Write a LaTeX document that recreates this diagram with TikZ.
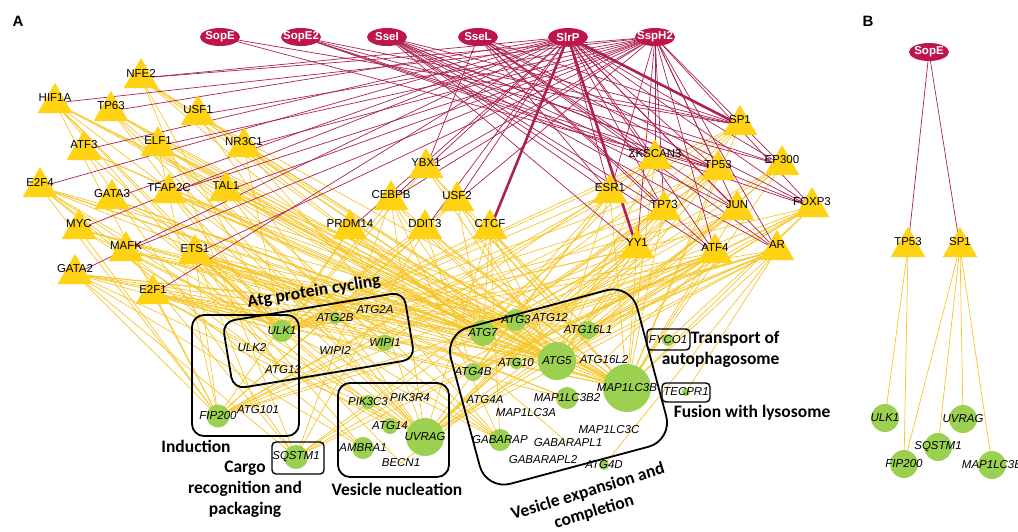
\documentclass[tikz,border=0pt]{standalone}
\usepackage{fontspec}
\setmainfont{Liberation Sans}
\newfontfamily\calibri{Carlito}
\usetikzlibrary{shapes.geometric}

\definecolor{hostred}{RGB}{172,32,82}
\definecolor{effred}{RGB}{190,22,74}
\definecolor{tfgold}{RGB}{255,210,20}
\definecolor{tgline}{RGB}{246,198,40}
\definecolor{genegreen}{RGB}{155,208,80}

\pgfdeclarelayer{edges}
\pgfsetlayers{edges,main}

\begin{document}
\begin{tikzpicture}
   [x=1pt, y=-1pt,
    eff/.style={ellipse, fill=effred, minimum width=40pt, minimum height=18pt, inner sep=0pt},
    efflab/.style={text=white, font=\fontsize{11.5}{12}\selectfont\bfseries},
    tf/.style={regular polygon, regular polygon sides=3, minimum size=40pt, inner sep=0pt, fill=tfgold},
    tflab/.style={font=\fontsize{11.5}{12}\selectfont, yshift=5pt},
    gene/.style={circle, fill=genegreen, inner sep=0pt, minimum size=#1},
    genelab/.style={font=\fontsize{11.5}{12}\selectfont\itshape},
    grpbox/.style={draw, line width=1.8pt, rounded corners=12pt},
    tinybox/.style={draw, line width=1.4pt, rounded corners=4pt},
    grplab/.style={font=\calibri\fontsize{17.5}{21}\selectfont\bfseries, align=center},
    hostedge/.style={hostred, line width=0.7pt},
    tgedge/.style={tgline, line width=0.7pt}]
    \useasboundingbox (0,0) rectangle (1018,531);

    \node[font=\fontsize{15}{16}\selectfont\bfseries] (panelA) at (18,21) {A};
    \node[font=\fontsize{15}{16}\selectfont\bfseries] (panelB) at (868,21) {B};

    % effectors
    \node[eff, label={[efflab]center:SopE}] (SopE) at (220,37) {};
    \node[eff, label={[efflab]center:SopE2}] (SopE2) at (301,37) {};
    \node[eff, label={[efflab]center:SseI}] (SseI) at (387,37) {};
    \node[eff, label={[efflab]center:SseL}] (SseL) at (478,37) {};
    \node[eff, label={[efflab]center:SlrP}] (SlrP) at (568,37) {};
    \node[eff, label={[efflab]center:SspH2}] (SspH2) at (655,37) {};

    % transcription factors
    \node[tf, label={[tflab]center:NFE2}] (NFE2) at (141,78) {};
    \node[tf, label={[tflab]center:HIF1A}] (HIF1A) at (55,103) {};
    \node[tf, label={[tflab]center:TP63}] (TP63) at (111,111) {};
    \node[tf, label={[tflab]center:USF1}] (USF1) at (198,115) {};
    \node[tf, label={[tflab]center:ATF3}] (ATF3) at (84,150) {};
    \node[tf, label={[tflab]center:ELF1}] (ELF1) at (158,146) {};
    \node[tf, label={[tflab]center:NR3C1}] (NR3C1) at (244,147) {};
    \node[tf, label={[tflab]center:E2F4}] (E2F4) at (40,187) {};
    \node[tf, label={[tflab]center:GATA3}] (GATA3) at (112,199) {};
    \node[tf, label={[tflab]center:TFAP2C}] (TFAP2C) at (169,193) {};
    \node[tf, label={[tflab]center:TAL1}] (TAL1) at (226,191) {};
    \node[tf, label={[tflab]center:MYC}] (MYC) at (79,229) {};
    \node[tf, label={[tflab]center:MAFK}] (MAFK) at (126,251) {};
    \node[tf, label={[tflab]center:ETS1}] (ETS1) at (195,254) {};
    \node[tf, label={[tflab]center:GATA2}] (GATA2) at (75,274) {};
    \node[tf, label={[tflab]center:E2F1}] (E2F1) at (153,294) {};
    \node[tf, label={[tflab]center:YBX1}] (YBX1) at (426,168) {};
    \node[tf, label={[tflab]center:CEBPB}] (CEBPB) at (391,200) {};
    \node[tf, label={[tflab]center:USF2}] (USF2) at (457,201) {};
    \node[tf, label={[tflab]center:PRDM14}] (PRDM14) at (350,229) {};
    \node[tf, label={[tflab]center:DDIT3}] (DDIT3) at (425,229) {};
    \node[tf, label={[tflab]center:CTCF}] (CTCF) at (490,229) {};
    \node[tf, label={[tflab]center:ESR1}] (ESR1) at (610,193) {};
    \node[tf, label={[tflab]center:TP73}] (TP73) at (664,210) {};
    \node[tf, label={[tflab]center:JUN}] (JUN) at (737,210) {};
    \node[tf, label={[tflab]center:FOXP3}] (FOXP3) at (812,207) {};
    \node[tf, label={[tflab]center:YY1}] (YY1) at (637,248) {};
    \node[tf, label={[tflab]center:ATF4}] (ATF4) at (715,253) {};
    \node[tf, label={[tflab]center:AR}] (AR) at (777,250) {};
    \node[tf, label={[tflab]center:SP1}] (SP1) at (740,125) {};
    \node[tf, label={[tflab]center:ZKSCAN3}] (ZKSCAN3) at (655,159) {};
    \node[tf, label={[tflab]center:TP53}] (TP53) at (718,170) {};
    \node[tf, label={[tflab]center:EP300}] (EP300) at (782,165) {};

    % autophagy genes
    \node[gene=22pt, label={[genelab]center:ULK1}] (ULK1) at (282,331) {};
    \node[gene=0pt, label={[genelab]center:ULK2}] (ULK2) at (252,348) {};
    \node[gene=0pt, label={[genelab]center:ATG13}] (ATG13) at (283,370) {};
    \node[gene=23pt, label={[genelab]center:FIP200}] (FIP200) at (218,416) {};
    \node[gene=0pt, label={[genelab]center:ATG101}] (ATG101) at (258,410) {};
    \node[gene=12pt, label={[genelab]center:ATG2B}] (ATG2B) at (335,318) {};
    \node[gene=0pt, label={[genelab]center:ATG2A}] (ATG2A) at (375,310) {};
    \node[gene=0pt, label={[genelab]center:WIPI2}] (WIPI2) at (335,350) {};
    \node[gene=16pt, label={[genelab]center:WIPI1}] (WIPI1) at (385,343) {};
    \node[gene=14pt, label={[genelab]center:PIK3C3}] (PIK3C3) at (368,402) {};
    \node[gene=0pt, label={[genelab]center:PIK3R4}] (PIK3R4) at (410,398) {};
    \node[gene=16pt, label={[genelab]center:ATG14}] (ATG14) at (390,426) {};
    \node[gene=38pt, label={[genelab]center:UVRAG}] (UVRAG) at (425,437) {};
    \node[gene=22pt, label={[genelab]center:AMBRA1}] (AMBRA1) at (363,448) {};
    \node[gene=0pt, label={[genelab]center:BECN1}] (BECN1) at (401,463) {};
    \node[gene=24pt, label={[genelab]center:SQSTM1}] (SQSTM1) at (296,457) {};
    \node[gene=26pt, label={[genelab]center:ATG7}] (ATG7) at (483,333) {};
    \node[gene=22pt, label={[genelab]center:ATG3}] (ATG3) at (516,320) {};
    \node[gene=0pt, label={[genelab]center:ATG12}] (ATG12) at (550,318) {};
    \node[gene=18pt, label={[genelab]center:ATG16L1}] (ATG16L1) at (588,330) {};
    \node[gene=38pt, label={[genelab]center:ATG5}] (ATG5) at (557,361) {};
    \node[gene=0pt, label={[genelab]center:ATG16L2}] (ATG16L2) at (604,360) {};
    \node[gene=18pt, label={[genelab]center:ATG4B}] (ATG4B) at (473,372) {};
    \node[gene=12pt, label={[genelab]center:ATG10}] (ATG10) at (516,363) {};
    \node[gene=48pt, label={[genelab]center:MAP1LC3B}] (MAP1LC3B) at (627,388) {};
    \node[gene=22pt, label={[genelab]center:MAP1LC3B2}] (MAP1LC3B2) at (567,398) {};
    \node[gene=0pt, label={[genelab]center:ATG4A}] (ATG4A) at (485,400) {};
    \node[gene=0pt, label={[genelab]center:MAP1LC3A}] (MAP1LC3A) at (526,413) {};
    \node[gene=0pt, label={[genelab]center:MAP1LC3C}] (MAP1LC3C) at (609,430) {};
    \node[gene=22pt, label={[genelab]center:GABARAP}] (GABARAP) at (500,440) {};
    \node[gene=0pt, label={[genelab]center:GABARAPL1}] (GABARAPL1) at (568,443) {};
    \node[gene=0pt, label={[genelab]center:GABARAPL2}] (GABARAPL2) at (543,460) {};
    \node[gene=10pt, label={[genelab]center:ATG4D}] (ATG4D) at (604,465) {};
    \node[gene=12pt, label={[genelab]center:FYCO1}] (FYCO1) at (668,340) {};
    \node[gene=8pt, label={[genelab]center:TECPR1}] (TECPR1) at (686,392) {};

    % process boxes
    \node[grpbox, minimum width=107pt, minimum height=121pt] (indbox) at (245.5,375.5) {};
    \node[grpbox, minimum width=184pt, minimum height=68pt, rotate=9.4] (cycbox) at (318.5,340.5) {};
    \node[grpbox, minimum width=111pt, minimum height=94pt] (nucbox) at (393.5,430) {};
    \node[grpbox, rounded corners=25pt, minimum width=193pt, minimum height=162pt, rotate=15] (expbox) at (558.5,387) {};
    \node[tinybox, minimum width=52pt, minimum height=32pt] (cargobox) at (298,458) {};
    \node[tinybox, minimum width=43pt, minimum height=21pt] (trbox) at (668.5,339.5) {};
    \node[tinybox, minimum width=48pt, minimum height=19pt] (fusbox) at (686,392.5) {};

    \node[grplab, rotate=9.4] (cyclab) at (314,292) {Atg protein cycling};
    \node[grplab] (indlab) at (196,446) {Induction};
    \node[grplab] (cargolab) at (245,489) {Cargo\\recognition and\\packaging};
    \node[grplab] (nuclab) at (397,489) {Vesicle nucleation};
    \node[grplab, rotate=17] (explab) at (591,502) {Vesicle expansion and\\completion};
    \node[grplab, align=right, anchor=east] (trlab) at (783,349) {Transport of\\autophagosome};
    \node[grplab] (fuslab) at (752,413) {Fusion with lysosome};

    % panel B
    \node[eff, label={[efflab]center:SopE}] (bSopE) at (929,52) {};
    \node[tf, label={[tflab]center:TP53}] (bTP53) at (908,247) {};
    \node[tf, label={[tflab]center:SP1}] (bSP1) at (960,247) {};
    \node[gene=28pt, label={[genelab]center:ULK1}] (bULK1) at (885,418) {};
    \node[gene=28pt, label={[genelab]center:UVRAG}] (bUVRAG) at (963,419) {};
    \node[gene=28pt, label={[genelab]center:SQSTM1}] (bSQSTM1) at (938,447) {};
    \node[gene=28pt, label={[genelab]center:FIP200}] (bFIP200) at (904,464) {};
    \node[gene=28pt, label={[genelab]center:MAP1LC3B}] (bMAP1LC3B) at (992,465) {};

    \begin{pgfonlayer}{edges}
    % TF -> target genes
    \foreach \t/\gs in {NFE2/{SQSTM1,ULK1,ATG7,MAP1LC3B,GABARAPL1,ATG5},
        HIF1A/{ULK1,MAP1LC3B,ATG5,BECN1,FIP200,ATG7,GABARAP,ATG13},
        TP63/{ULK1,ATG7,MAP1LC3B,ATG5,UVRAG,WIPI1},
        USF1/{ATG7,MAP1LC3B,UVRAG,ATG16L1},
        ATF3/{ATG5,MAP1LC3B,SQSTM1,ULK1},
        ELF1/{ATG7,ATG5,FIP200,UVRAG,MAP1LC3B,ATG3,WIPI1},
        NR3C1/{MAP1LC3B,ATG5,GABARAP,ULK1},
        E2F4/{ATG5,ATG7,ULK1,FIP200,AMBRA1,MAP1LC3B2,UVRAG,ATG3,ATG13},
        GATA3/{ATG5,ATG7,MAP1LC3B,ULK1,ATG4B},
        TFAP2C/{ATG5,MAP1LC3B,ATG16L1,ATG3,ATG7,ULK1,UVRAG},
        TAL1/{MAP1LC3B,ATG5,ATG7,UVRAG,GABARAP,ATG16L1},
        MYC/{ULK1,ATG5,FIP200,ATG7,MAP1LC3B,UVRAG},
        MAFK/{ATG5,MAP1LC3B,SQSTM1,ATG7,GABARAP,ATG16L1},
        ETS1/{ULK1,ATG5,ATG7,FIP200,UVRAG,MAP1LC3B,ATG3,ATG4B,ATG14,WIPI1,ATG2B,AMBRA1,PIK3C3,MAP1LC3B2,GABARAP,ATG101,ATG13},
        GATA2/{ULK1,FIP200,ATG5,MAP1LC3B,ATG7,UVRAG,AMBRA1,SQSTM1,ATG16L1,ATG3},
        E2F1/{ULK1,FIP200,ATG5,ATG7,MAP1LC3B,ATG4B,UVRAG,ATG14,WIPI1,MAP1LC3B2},
        YBX1/{ATG5,MAP1LC3B,ULK1,ATG16L1},
        CEBPB/{ATG5,MAP1LC3B,ULK1,ATG7,UVRAG,SQSTM1,GABARAP},
        USF2/{ATG7,ATG5,MAP1LC3B,ULK1,FIP200},
        PRDM14/{ULK1,FIP200,ATG5,MAP1LC3B,ATG7,UVRAG},
        DDIT3/{ATG5,MAP1LC3B,ULK1,FIP200,ATG4B,SQSTM1},
        CTCF/{ATG5,ATG7,MAP1LC3B,ULK1,UVRAG,ATG16L1,GABARAP},
        ESR1/{ATG5,MAP1LC3B,ATG7,ULK1,UVRAG,ATG4B,FIP200},
        ZKSCAN3/{MAP1LC3B,ATG5,ATG7,ULK1,WIPI1},
        SP1/{MAP1LC3B,ULK1,UVRAG,SQSTM1,FIP200,ATG5},
        TP53/{ULK1,FIP200,ATG7,ATG5,MAP1LC3B,SQSTM1,UVRAG,ATG10},
        EP300/{ATG5,ATG7,ATG12,MAP1LC3B,ATG16L1},
        TP73/{ATG5,ATG7,MAP1LC3B,UVRAG,ULK1,FIP200,ATG4B},
        JUN/{ATG5,MAP1LC3B,ATG7,ULK1,UVRAG,SQSTM1,BECN1},
        FOXP3/{ATG5,ATG7,MAP1LC3B,ULK1,ATG4B,FYCO1,ATG16L1,UVRAG,PIK3R4},
        YY1/{ATG5,ATG7,MAP1LC3B,ULK1,UVRAG,FIP200,ATG4B},
        ATF4/{ATG5,ATG7,MAP1LC3B,ULK1,FIP200,SQSTM1,UVRAG,ATG4B,ATG16L1,ATG12,ATG16L2},
        AR/{ATG5,ATG7,MAP1LC3B,ULK1,FIP200,UVRAG,ATG4B,ATG16L1,ATG3,ATG4D,TECPR1,ATG10},
        bTP53/{bULK1,bFIP200},
        bSP1/{bFIP200,bSQSTM1,bUVRAG,bMAP1LC3B}}
        \foreach \g in \gs
            \draw[tgedge] (\t.center) -- (\g.center);

    % effector -> TF
    \foreach \e/\ts in {SopE/{TP53,SP1},
        SopE2/{SP1,TP53,ZKSCAN3,EP300,FOXP3},
        SseI/{SP1,ZKSCAN3,TP53,EP300,FOXP3,ESR1,TP73,JUN,AR,ATF4,YY1},
        SseL/{YBX1,SP1,ZKSCAN3,TP53,ESR1,TP73,JUN,AR,FOXP3,ATF4},
        SlrP/{ZKSCAN3,TP53,EP300,FOXP3,ESR1,TP73,JUN,AR,ATF4,USF2,CEBPB,DDIT3,PRDM14,NFE2,TP63,ATF3,E2F4,GATA3,MYC,GATA2,E2F1},
        SspH2/{ZKSCAN3,TP53,EP300,FOXP3,ESR1,TP73,JUN,AR,ATF4,YY1,YBX1,CEBPB,USF2,HIF1A,USF1,ELF1,NR3C1,TFAP2C,TAL1,MAFK,ETS1,NFE2},
        bSopE/{bTP53,bSP1}}
        \foreach \t in \ts
            \draw[hostedge] (\e.center) -- (\t.center);

    \draw[hostedge, line width=2.6pt] (SlrP.center) -- (CTCF.center);
    \draw[hostedge, line width=2.6pt] (SlrP.center) -- (YY1.center);
    \draw[hostedge, line width=2.6pt] (SlrP.center) -- (SP1.center);
    \end{pgfonlayer}
\end{tikzpicture}
\end{document}
